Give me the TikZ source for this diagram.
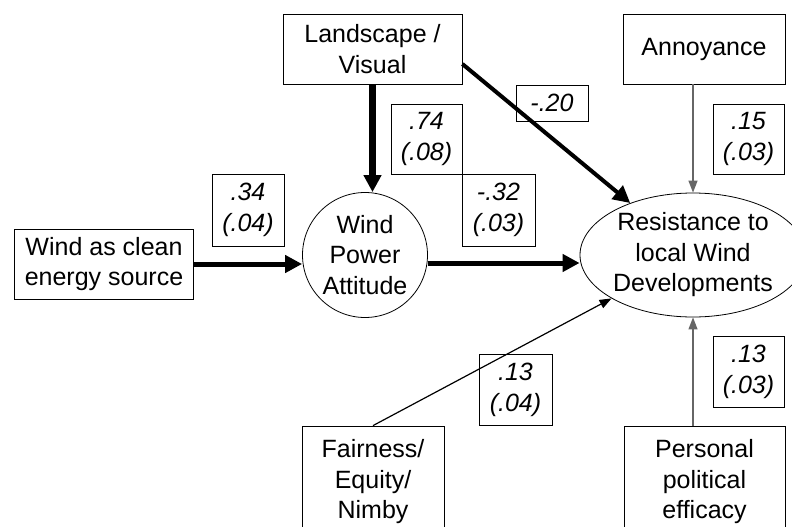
\documentclass[tikz,border=0pt]{standalone}
\usepackage{fontspec}
\setmainfont{Liberation Sans}
\usetikzlibrary{arrows.meta, shapes, positioning}

\tikzset{
    varbox/.style={draw, line width=0.8pt, align=center, inner sep=0pt,
        font=\fontsize{25}{30.5}\selectfont},
    coefbox/.style={varbox, font=\fontsize{25}{31}\selectfont\itshape},
    strongarrow/.style={line width=5pt, -{Triangle[length=17pt, width=17pt]}},
    weakarrow/.style={line width=1.2pt, -{Triangle[length=12pt, width=9pt]}},
}

\begin{document}
\begin{tikzpicture}[x=1pt, y=-1pt]

    \clip (0,0) rectangle (792,527);

    %% Path model

    % Variables
    \node[varbox, minimum width=179pt, minimum height=70pt] (clean) at (104,264) {Wind as clean\\energy source};
    \node[varbox, minimum width=179pt, minimum height=70pt] (landscape) at (372.5,49) {Landscape /\\Visual};
    \node[varbox, minimum width=162pt, minimum height=70pt] (annoy) at (704,49) {Annoyance};
    \node[varbox, minimum width=142pt, minimum height=112pt] (fair) at (373,482) {Fairness/\\Equity/\\Nimby};
    \node[varbox, minimum width=161pt, minimum height=112pt] (efficacy) at (704.5,482) {Personal\\political\\efficacy};
    \node[varbox, circle, minimum size=125pt] (attitude) at (365,255) {Wind\\Power\\Attitude};
    \node[varbox, ellipse, minimum width=210pt, minimum height=124pt] (resist) at (693,255) {Resistance to\\local Wind\\Developments};

    % Coefficients
    \node[coefbox, minimum width=72pt, minimum height=72pt] (c34) at (248,210) {.34\\(.04)};
    \node[coefbox, minimum width=71pt, minimum height=70pt] (c74) at (426.5,139) {.74\\(.08)};
    \node[coefbox, minimum width=73pt, minimum height=72pt] (c32) at (498.5,210) {-.32\\(.03)};
    \node[coefbox, minimum width=72pt, minimum height=36pt] (c20) at (552,103) {-.20};
    \node[coefbox, minimum width=71pt, minimum height=70pt] (c15) at (748.5,139) {.15\\(.03)};
    \node[coefbox, minimum width=73pt, minimum height=71pt] (c13f) at (515.5,389.5) {.13\\(.04)};
    \node[coefbox, minimum width=71pt, minimum height=71pt] (c13e) at (748.5,371.5) {.13\\(.03)};

    % Paths
    \draw[strongarrow] (clean.east) -- (clean.east -| attitude.west);
    \draw[strongarrow, line width=7pt] (landscape.south) -- (landscape.south |- attitude.north);
    \draw[strongarrow] ([yshift=-8pt]attitude.east) -- ([yshift=-8pt]attitude.east -| resist.west);
    \draw[strongarrow, line width=4pt] ([yshift=-15pt]landscape.east) -- (resist);
    \draw[weakarrow, black!60] (resist |- annoy.south) -- (resist.north);
    \draw[weakarrow, black!60] (resist |- efficacy.north) -- (resist.south);
    \draw[weakarrow] (fair.north) -- (resist);

\end{tikzpicture}
\end{document}
